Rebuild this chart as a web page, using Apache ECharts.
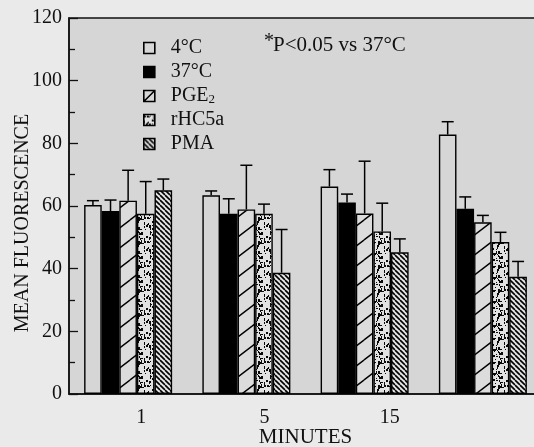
<!DOCTYPE html>
<html>
<head>
<meta charset="utf-8">
<script src="https://cdn.jsdelivr.net/npm/echarts@6/dist/echarts.min.js"></script>
<style>
  html, body { margin: 0; padding: 0; background: #eaeaea; }
  #chart { width: 534px; height: 447px; }
</style>
</head>
<body>
<div id="chart"></div>
<script>
// minutes after stimulation (4th group label is cut off in the source)
const categories = ['1', '5', '15', ''];

// bar heights (mean) and top of the error bar (mean + SE)
const cold4 = [60.3, 63.4, 66.2, 82.8];
const cold4Err = [61.7, 64.8, 71.6, 86.9];
const warm37 = [58.4, 57.5, 61.1, 59.1];
const warm37Err = [61.9, 62.3, 63.8, 62.9];
const pge2 = [61.7, 58.9, 57.6, 54.8];
const pge2Err = [71.4, 73.0, 74.3, 57.0];
const rhc5a = [57.5, 57.5, 51.9, 48.5];
const rhc5aErr = [67.8, 60.6, 60.9, 51.6];
const pma = [65.0, 38.7, 45.2, 37.4];
const pmaErr = [68.6, 52.5, 49.5, 42.3];

const seriesNames = ['4°C', '37°C', 'PGE2', 'rHC5a', 'PMA'];
const yTicks = [0, 20, 40, 60, 80, 100, 120];

const FONT = '"Liberation Serif", "DejaVu Serif", serif';
const FS = 20;
const BG = '#d6d6d6';
const BAR_W = 17.6;

// --- fill patterns ---
function tile(w, h, draw) {
  const c = document.createElement('canvas');
  c.width = w; c.height = h;
  const ctx = c.getContext('2d');
  draw(ctx, w, h);
  return { image: c, repeat: 'repeat' };
}
// sparse "/" hatch
const slashFill = tile(26, 20, (ctx, w, h) => {
  ctx.fillStyle = '#dcdcdc'; ctx.fillRect(0, 0, w, h);
  ctx.strokeStyle = '#000'; ctx.lineWidth = 1.4;
  for (const k of [-1, 0, 1]) {
    ctx.beginPath();
    ctx.moveTo(k * w, h); ctx.lineTo(k * w + w, 0);
    ctx.moveTo(k * w, 2 * h); ctx.lineTo(k * w + w, h);
    ctx.moveTo(k * w, 0); ctx.lineTo(k * w + w, -h);
    ctx.stroke();
  }
});
// dense "\" hatch
const backFill = tile(5, 5, (ctx, w, h) => {
  ctx.fillStyle = '#e4e4e4'; ctx.fillRect(0, 0, w, h);
  ctx.strokeStyle = '#000'; ctx.lineWidth = 1.6;
  for (const k of [-1, 0, 1]) {
    ctx.beginPath();
    ctx.moveTo(k * w, 0); ctx.lineTo(k * w + w, h);
    ctx.stroke();
  }
});
// stipple: fixed speck layout from a small hash
const dotFill = tile(24, 24, (ctx, w, h) => {
  ctx.fillStyle = '#e2e2e2'; ctx.fillRect(0, 0, w, h);
  ctx.fillStyle = '#0a0a0a';
  let s = 7;
  for (let i = 0; i < 80; i++) {
    s = (s * 73 + 41) % 997;
    const x = s % w;
    s = (s * 73 + 41) % 997;
    const y = s % h;
    ctx.fillRect(x, y, 1 + (i % 3 === 0 ? 1 : 0), 1 + (i % 2) + (i % 5 === 0 ? 1 : 0));
  }
});

const fills = [BG, '#000', slashFill, dotFill, backFill];
const means = [cold4, warm37, pge2, rhc5a, pma];
const errs = [cold4Err, warm37Err, pge2Err, rhc5aErr, pmaErr];

const barSeries = seriesNames.map((name, i) => ({
  name: name,
  type: 'bar',
  data: means[i],
  barWidth: BAR_W,
  barGap: '0%',
  itemStyle: { color: fills[i], borderColor: '#000', borderWidth: 1.4 },
  emphasis: { disabled: true },
  z: 2
}));

const errData = [];
means.forEach((arr, i) => arr.forEach((v, c) => errData.push([c, v, errs[i][c], i])));

const errSeries = {
  type: 'custom',
  silent: true,
  z: 3,
  data: errData,
  renderItem: (params, api) => {
    const c = api.value(0);
    const base = api.coord([c, api.value(1)]);
    const top = api.coord([c, api.value(2)]);
    const x = base[0] + (api.value(3) - 2) * BAR_W;
    const st = { stroke: '#000', lineWidth: 1.5 };
    return {
      type: 'group',
      children: [
        { type: 'line', shape: { x1: x, y1: base[1], x2: x, y2: top[1] }, style: st },
        { type: 'line', shape: { x1: x - 6, y1: top[1], x2: x + 6, y2: top[1] }, style: st }
      ]
    };
  }
};

// legend entries; PGE2 icon is a box with one diagonal stroke
const legendData = seriesNames.map(n => n === 'PGE2'
  ? { name: n, icon: 'path://M0,0L11,0L11,11L0,11Z M0.5,10.5L10.5,0.5', itemStyle: { color: BG, borderColor: '#000', borderWidth: 1.6 } }
  : { name: n, itemStyle: { borderWidth: 1.6 } });

// x labels sit a little right of the group centres, more so further right
const labelShift = [26, 36, 50, 0];

const chart = echarts.init(document.getElementById('chart'), null, { renderer: 'canvas' });
chart.setOption({
  backgroundColor: '#eaeaea',
  animation: false,
  textStyle: { fontFamily: FONT, color: '#111' },
  grid: {
    show: true, left: 69, top: 18, right: -8, bottom: 53,
    outerBoundsMode: 'none',
    backgroundColor: BG, borderColor: '#111', borderWidth: 1.5
  },
  graphic: [
    { type: 'text', left: 264, top: 32, style: { text: '*', font: '20px ' + FONT, fill: '#111' } },
    { type: 'text', left: 273, top: 35, style: { text: 'P<0.05 vs 37°C', font: '21px ' + FONT, fill: '#111' } }
  ],
  legend: {
    orient: 'vertical',
    left: 143, top: 38, padding: 0,
    itemWidth: 11, itemHeight: 11, itemGap: 4,
    icon: 'rect',
    data: legendData,
    selectedMode: false,
    formatter: n => n === 'PGE2' ? 'PGE{sub|2}' : n,
    textStyle: {
      fontFamily: FONT, fontSize: FS, color: '#111', padding: [0, 0, 0, 11],
      rich: { sub: { fontFamily: FONT, fontSize: 13, verticalAlign: 'bottom', padding: [7, 0, 0, 0], color: '#111' } }
    }
  },
  xAxis: {
    type: 'category',
    data: categories,
    name: 'MINUTES',
    nameLocation: 'middle',
    nameGap: 33,
    nameMoveOverlap: false,
    nameTextStyle: { fontFamily: FONT, fontSize: 21, color: '#111' },
    axisLine: { lineStyle: { color: '#111', width: 1.5 } },
    axisTick: { inside: true, length: 6, lineStyle: { color: '#111', width: 1.3 } },
    axisLabel: {
      fontFamily: FONT, fontSize: FS, color: '#111', margin: 14,
      formatter: (v, i) => `{c${i}|${v}}`,
      rich: Object.fromEntries(labelShift.map((p, i) => ['c' + i, { fontFamily: FONT, fontSize: FS, color: '#111', padding: [0, 0, 0, p] }]))
    }
  },
  yAxis: {
    type: 'value',
    min: yTicks[0], max: yTicks[yTicks.length - 1], interval: 20,
    name: 'MEAN FLUORESCENCE',
    nameLocation: 'middle',
    nameGap: 36,
    nameMoveOverlap: false,
    nameTextStyle: { fontFamily: FONT, fontSize: FS, color: '#111', padding: [0, 34, 0, 0] },
    axisLine: { show: true, lineStyle: { color: '#111', width: 1.5 } },
    axisTick: { show: true, inside: true, length: 9, lineStyle: { color: '#111', width: 1.3 } },
    minorTick: { show: true, splitNumber: 2, length: 6, lineStyle: { color: '#111', width: 1.3 } },
    splitLine: { show: false },
    axisLabel: { fontFamily: FONT, fontSize: FS, color: '#111', margin: 7 }
  },
  series: [...barSeries, errSeries]
});
</script>
</body>
</html>
